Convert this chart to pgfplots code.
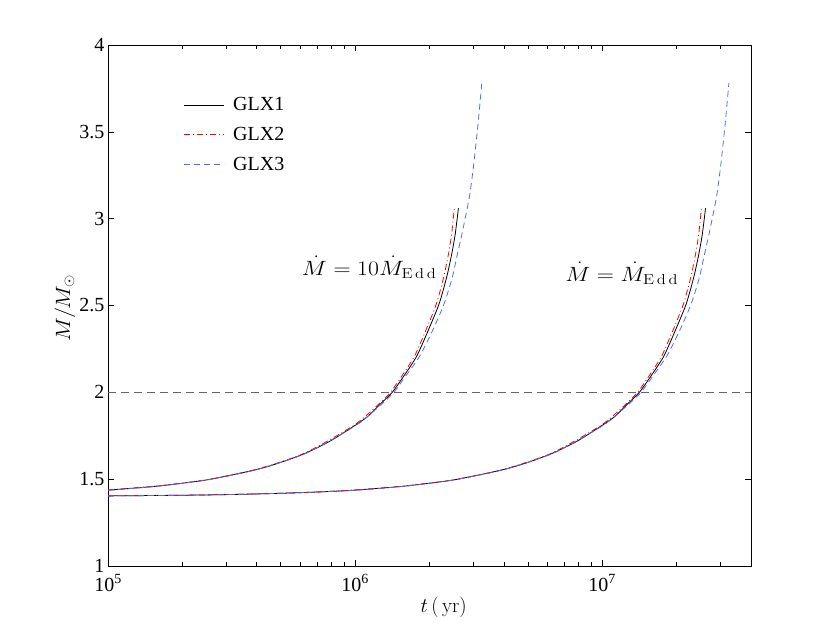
\documentclass[border=0pt]{standalone}
\usepackage[no-math]{fontspec}
\setmainfont{Liberation Serif}
\usepackage{graphicx}
\usepackage{pgfplots}
\pgfplotsset{compat=1.18}
\definecolor{mblue}{rgb}{0.3,0.42,1.0}
\begin{document}
\begin{tikzpicture}
\begin{axis}[
  at={(0,0)}, anchor=south west,
  scale only axis, width=643bp, height=521bp,
  xmode=log, xmin=1e5, xmax=4e7, ymin=1, ymax=4,
  xtick={1e5,1e6,1e7},
  xticklabels={10\textsuperscript{5},10\textsuperscript{6},10\textsuperscript{7}},
  minor xtick={2e5,3e5,4e5,5e5,6e5,7e5,8e5,9e5,2e6,3e6,4e6,5e6,6e6,7e6,8e6,9e6,2e7,3e7},
  ytick={1,1.5,2,2.5,3,3.5,4},
  yticklabels={1,1.5,2,2.5,3,3.5,4},
  tick align=inside, major tick length=6bp, minor tick length=4bp,
  tick style={black, line width=0.6bp},
  axis line style={line width=0.8bp},
  ticklabel style={font=\fontsize{20bp}{22bp}\selectfont},
  xticklabel style={yshift=-5bp},
  xlabel={$t\,(\,\mathrm{yr})$},
  ylabel={\scalebox{1.1}[1]{$M/M_\odot$}},
  label style={font=\fontsize{22bp}{24bp}\selectfont},
  xlabel style={at={(axis description cs:0.522,-0.079)}, anchor=center},
  ylabel style={at={(axis description cs:-0.067,0.495)}, anchor=center},
  legend cell align=left,
  legend style={draw=none, fill=none, at={(0.117,0.903)}, anchor=north west,
    font=\fontsize{20bp}{22bp}\selectfont, row sep=11bp, inner sep=0pt},
  legend image code/.code={\draw[#1] (0bp,0bp) -- (40bp,0bp); \path (47bp,0bp);},
  every axis plot/.append style={smooth, tension=0.4},
]
% GLX1, 10 Medd
\addplot[black, line width=0.8bp] coordinates {
(1e5,1.437) (1.585e5,1.460) (2.512e5,1.496) (3.981e5,1.555) (5.012e5,1.597)
(6.310e5,1.650) (7.943e5,1.72) (1e6,1.81) (1.122e6,1.86) (1.259e6,1.93)
(1.413e6,2.00) (1.585e6,2.10) (1.778e6,2.21) (1.995e6,2.37) (2.188e6,2.51)
(2.344e6,2.66) (2.455e6,2.79) (2.541e6,2.91) (2.618e6,3.06)};
\addlegendentry{GLX1}
% GLX2, 10 Medd
\addplot[red, line width=0.8bp, dash pattern=on 6bp off 3bp on 1bp off 3bp] coordinates {
(1e5,1.438) (1.585e5,1.461) (2.495e5,1.496) (3.954e5,1.555) (6.252e5,1.650)
(9.886e5,1.81) (1.242e6,1.93) (1.390e6,2.00) (1.556e6,2.10) (1.742e6,2.21)
(1.950e6,2.37) (2.133e6,2.51) (2.280e6,2.66) (2.382e6,2.79) (2.458e6,2.91)
(2.523e6,3.07)};
\addlegendentry{GLX2}
% GLX3, 10 Medd
\addplot[mblue, line width=0.8bp, dash pattern=on 6bp off 4bp] coordinates {
(1e5,1.436) (1.585e5,1.459) (2.523e5,1.496) (3.999e5,1.555) (6.353e5,1.650)
(1.009e6,1.81) (1.276e6,1.93) (1.435e6,2.00) (1.614e6,2.10) (1.828e6,2.21)
(2.080e6,2.37) (2.291e6,2.51) (2.472e6,2.66) (2.588e6,2.79) (2.704e6,2.91)
(2.805e6,3.02) (2.904e6,3.13) (3.013e6,3.30) (3.141e6,3.54) (3.255e6,3.78)};
\addlegendentry{GLX3}
% GLX1, Medd
\addplot[black, line width=0.8bp, forget plot] coordinates {
(1e5,1.4037) (2e5,1.4074) (3.162e5,1.4117) (5e5,1.4186) (7e5,1.426)
(1e6,1.437) (1.585e6,1.460) (2.512e6,1.496) (3.981e6,1.555) (5.012e6,1.597)
(6.310e6,1.650) (7.943e6,1.72) (1e7,1.81) (1.122e7,1.86) (1.259e7,1.93)
(1.413e7,2.00) (1.585e7,2.10) (1.778e7,2.21) (1.995e7,2.37) (2.188e7,2.51)
(2.344e7,2.66) (2.455e7,2.79) (2.541e7,2.91) (2.618e7,3.06)};
% GLX2, Medd
\addplot[red, line width=0.8bp, dash pattern=on 6bp off 3bp on 1bp off 3bp, forget plot] coordinates {
(1e5,1.4038) (2e5,1.4075) (3.162e5,1.4118) (5e5,1.4187) (7e5,1.4262)
(1e6,1.438) (1.585e6,1.461) (2.495e6,1.496) (3.954e6,1.555) (6.252e6,1.650)
(9.886e6,1.81) (1.242e7,1.93) (1.390e7,2.00) (1.556e7,2.10) (1.742e7,2.21)
(1.950e7,2.37) (2.133e7,2.51) (2.280e7,2.66) (2.382e7,2.79) (2.458e7,2.91)
(2.523e7,3.07)};
% GLX3, Medd
\addplot[mblue, line width=0.8bp, dash pattern=on 6bp off 4bp, forget plot] coordinates {
(1e5,1.4036) (2e5,1.4073) (3.162e5,1.4116) (5e5,1.4185) (7e5,1.4258)
(1e6,1.436) (1.585e6,1.459) (2.523e6,1.496) (3.999e6,1.555) (6.353e6,1.650)
(1.009e7,1.81) (1.276e7,1.93) (1.435e7,2.00) (1.614e7,2.10) (1.828e7,2.21)
(2.080e7,2.37) (2.291e7,2.51) (2.472e7,2.66) (2.588e7,2.79) (2.704e7,2.91)
(2.805e7,3.02) (2.904e7,3.13) (3.013e7,3.30) (3.141e7,3.54) (3.255e7,3.78)};
% M = 2 reference line
\addplot[black!60, line width=1.3bp, dash pattern=on 8bp off 5bp, forget plot, sharp plot] coordinates {(1e5,2) (4e7,2)};
\node[anchor=base west, inner sep=0pt, font=\fontsize{19bp}{21bp}\selectfont] at (axis cs:6.08e5,2.675) {\scalebox{1.15}[1]{$\dot M = 10\dot M_{\mathrm{E\,d\,d}}$}};
\node[anchor=base west, inner sep=0pt, font=\fontsize{19bp}{21bp}\selectfont] at (axis cs:7.08e6,2.641) {\scalebox{1.15}[1]{$\dot M = \dot M_{\mathrm{E\,d\,d}}$}};
\end{axis}
\path[use as bounding box] (-108bp,-70bp) rectangle (722bp,566bp);
\end{tikzpicture}
\end{document}
